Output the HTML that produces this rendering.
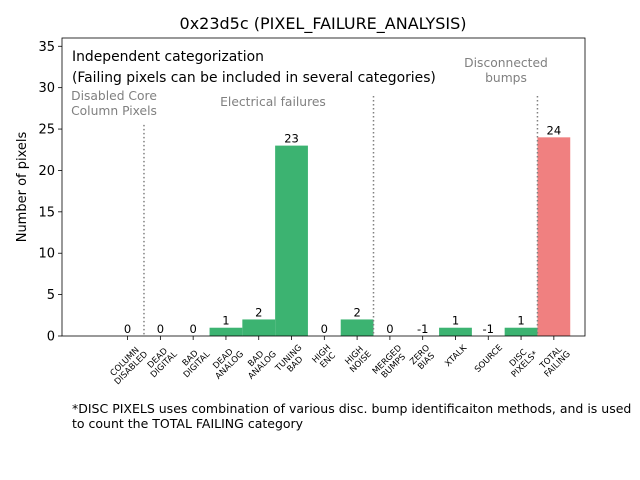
<!DOCTYPE html>
<html><head><meta charset="utf-8"><style>
body{margin:0;background:#fff}
svg{display:block;font-family:"DejaVu Sans","Liberation Sans",sans-serif}
</style></head><body>
<svg id="chart" width="640" height="480" viewBox="0 0 640 480">
<rect width="640" height="480" fill="#fff"/>
<text x="323" y="29" font-size="16" text-anchor="middle">0x23d5c (PIXEL_FAILURE_ANALYSIS)</text>
<text transform="translate(26,187) rotate(-90)" font-size="13" text-anchor="middle">Number of pixels</text>
<g id="plot"></g>
<text x="72" y="61" font-size="13.9">Independent categorization</text>
<text x="72" y="82" font-size="13.9">(Failing pixels can be included in several categories)</text>
<text x="114" y="100" font-size="12.3" fill="#808080" text-anchor="middle"><tspan x="114">Disabled Core</tspan><tspan x="114" dy="15">Column Pixels</tspan></text>
<text x="273" y="106" font-size="12.3" fill="#808080" text-anchor="middle">Electrical failures</text>
<text x="506" y="67" font-size="12.3" fill="#808080" text-anchor="middle"><tspan x="506">Disconnected</tspan><tspan x="506" dy="15">bumps</tspan></text>
<text x="72" y="413" font-size="12.5"><tspan x="72">*DISC PIXELS uses combination of various disc. bump identificaiton methods, and is used</tspan><tspan x="72" dy="15">to count the TOTAL FAILING category</tspan></text>
</svg>
<script>
const categories=[["COLUMN","DISABLED"],["DEAD","DIGITAL"],["BAD","DIGITAL"],["DEAD","ANALOG"],["BAD","ANALOG"],["TUNING","BAD"],["HIGH","ENC"],["HIGH","NOISE"],["MERGED","BUMPS"],["ZERO","BIAS"],["XTALK"],["SOURCE"],["DISC","PIXELS*"],["TOTAL","FAILING"]];
const values=[0,0,0,1,2,23,0,2,0,-1,1,-1,1,24];
const yTicks=[0,5,10,15,20,25,30,35];
const separators=[0.5,7.5,12.5];
const separatorTops=[25.5,29,29];

const L=62,R=585,T=38,B=336;
const xMin=-2,xMax=13.95,yMin=0,yMax=36;
const sx=v=>L+(v-xMin)/(xMax-xMin)*(R-L);
const sy=v=>B-(v-yMin)/(yMax-yMin)*(B-T);
const NS="http://www.w3.org/2000/svg";
const g=document.getElementById('plot');
function mk(tag,attrs,parent){const e=document.createElementNS(NS,tag);for(const k in attrs)e.setAttribute(k,attrs[k]);(parent||g).appendChild(e);return e;}
const w=sx(1)-sx(0);
values.forEach((v,i)=>{
  const top=sy(Math.max(v,0));
  if(v>0){
    const r=mk('rect',{x:sx(i)-w/2,y:top,width:w,height:B-top,fill:i===values.length-1?'#f08080':'#3cb371'});
    
    
  }
  const t=mk('text',{x:sx(i),y:top-3,'font-size':11.5,'text-anchor':'middle'});
  t.textContent=String(v);
  
  
  const tk=mk('line',{x1:sx(i),x2:sx(i),y1:B,y2:B+4,stroke:'#000','stroke-width':0.8});
  
  
  const grp=mk('g',{});
  
  
  const lab=mk('text',{'font-size':8.5,'text-anchor':'middle',transform:'rotate(-45)'},grp);
  const lines=categories[i];
  lines.forEach((s,j)=>{const ts=mk('tspan',{x:0,y:(j-(lines.length-1)/2)*9+3},lab);ts.textContent=s;});
  grp.setAttribute('transform',`translate(${sx(i)},${B+30})`);
  const bb=grp.getBoundingClientRect();
  const dy=(B+7)-bb.top;
  grp.setAttribute('transform',`translate(${sx(i)},${B+30+dy})`);
});
separators.forEach((s,i)=>{
  const l=mk('line',{x1:sx(s),x2:sx(s),y1:sy(separatorTops[i]),y2:B,stroke:'#808080','stroke-width':1.5,'stroke-dasharray':'1.5,2.5'});
  
  
});
yTicks.forEach(v=>{
  const l=mk('line',{x1:L-4,x2:L,y1:sy(v),y2:sy(v),stroke:'#000','stroke-width':0.8});
  
  
  const t=mk('text',{x:L-7,y:sy(v)+4.5,'font-size':13,'text-anchor':'end'});
  t.textContent=v;
  
  
});
const frame=mk('rect',{x:L,y:T,width:R-L,height:B-T,fill:'none',stroke:'#000','stroke-width':0.8});


</script>
</body></html>
